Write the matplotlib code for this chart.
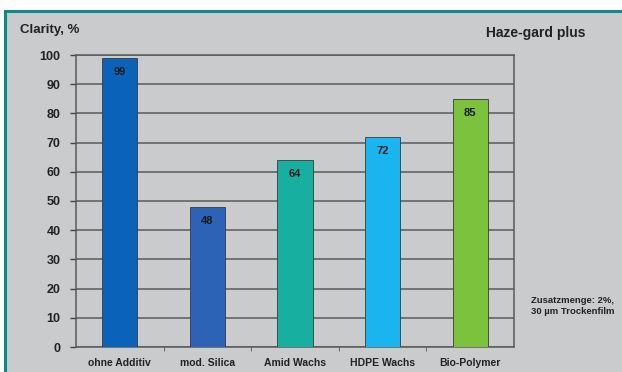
import matplotlib
matplotlib.use("Agg")
import matplotlib.pyplot as plt
from matplotlib.lines import Line2D
import numpy as np

plt.rcParams["font.family"] = ["Liberation Sans", "DejaVu Sans"]

categories = ["ohne Additiv", "mod. Silica", "Amid Wachs", "HDPE Wachs", "Bio-Polymer"]
values = [99, 48, 64, 72, 85]
colors = ["#0a63b9", "#2d63b6", "#17b0a0", "#1ab4ee", "#7dc23c"]
yticks = [0, 10, 20, 30, 40, 50, 60, 70, 80, 90, 100]

bg = "#c9cbcc"
teal = "#0e8a86"
dark = "#222222"

fig = plt.figure(figsize=(6.22, 3.72), dpi=100)
fig.patch.set_facecolor("white")
fig.add_artist(plt.Rectangle((5/622, 0), 1, 1 - 11/372, transform=fig.transFigure,
                             facecolor=bg, edgecolor="none", zorder=0))
fig.add_artist(Line2D([5/622, 1], [1 - 11/372, 1 - 11/372], transform=fig.transFigure,
                      color=teal, lw=2.2))
fig.add_artist(Line2D([5/622, 5/622], [0, 1 - 11/372], transform=fig.transFigure,
                      color=teal, lw=2.2))

ax = fig.add_axes([76/622, 1 - 347/372, 438/622, 292/372])
ax.set_facecolor(bg)
x = np.arange(len(categories))
ax.bar(x, values, width=0.4, color=colors, edgecolor="#3a3a3a", linewidth=0.6, zorder=3)
for xi, v in zip(x, values):
    ax.text(xi, v - 3, f"{v}", ha="center", va="top", fontsize=8, fontweight="bold",
            color="#1a1a1a", zorder=4)

ax.set_xlim(-0.5, len(categories) - 0.5)
ax.set_ylim(0, 100)
ax.set_yticks(yticks)
ax.set_yticklabels([str(t) for t in yticks], fontsize=9, fontweight="bold", color=dark)
ax.yaxis.grid(True, color="#5a5a5a", lw=1.1, zorder=1)
ax.set_axisbelow(True)
ax.set_xticks(x)
ax.set_xticklabels(categories, fontsize=7.5, fontweight="bold", color=dark)
ax.tick_params(axis="x", length=0, pad=8)
ax.set_xticks(np.arange(0.5, len(categories) - 0.5, 1), minor=True)
ax.tick_params(axis="x", which="minor", length=3, color="#555555", direction="out")
ax.tick_params(axis="y", length=4, width=1.0, color="#444444", pad=7)
for s in ["left", "right", "top", "bottom"]:
    ax.spines[s].set_color("#5a5a5a")
    ax.spines[s].set_linewidth(1.1)

fig.text(20/622, 1 - 30/372, "Clarity, %", fontsize=9.5, fontweight="bold", color=dark,
         va="center", ha="left")
fig.text(585/622, 1 - 33/372, "Haze-gard plus", fontsize=10, fontweight="bold", color=dark,
         va="center", ha="right")
fig.text(531/622, 1 - 306/372, "Zusatzmenge: 2%,\n30 µm Trockenfilm", fontsize=6.8,
         fontweight="bold", color=dark, va="center", ha="left", linespacing=1.2)

fig.savefig("out.png", dpi=100)
